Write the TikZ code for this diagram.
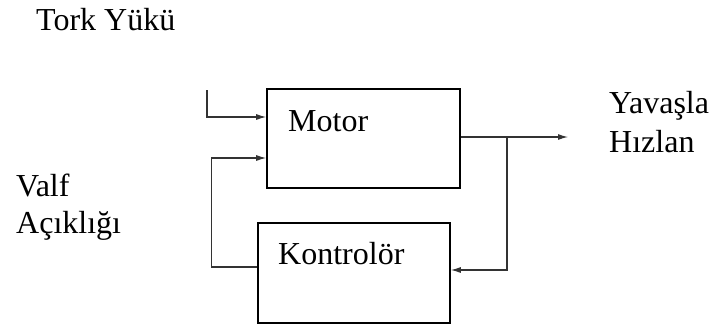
\documentclass[tikz,border=0pt]{standalone}
\usepackage{fontspec}
\setmainfont{Liberation Serif}
\usetikzlibrary{arrows.meta}
\begin{document}
\begin{tikzpicture}[x=1pt, y=-1pt, >={Latex[length=10pt,width=6pt]},
  block/.style={draw, line width=1.6pt, minimum width=193pt, minimum height=99pt, inner sep=0pt},
  txt/.style={anchor=base west, inner sep=0pt, font=\fontsize{32}{38}\selectfont},
  wire/.style={line width=1.1pt, black!80}]
\useasboundingbox (0,0) rectangle (715,327);
% blocks
\node[block] (motor) at (363.5,138.5) {};
\node[block, minimum width=192pt, minimum height=100pt] (kontrol) at (354,273) {};
\node[txt] (motortxt) at (288,131) {Motor};
\node[txt] (kontroltxt) at (278,264) {Kontrolör};
% outside labels
\node[txt] (tork) at (36,30) {Tork Yükü};
\node[txt] (valf) at (16,196) {Valf};
\node[txt] (acik) at (16,233) {Açıklığı};
\node[txt] (yavas) at (609,113) {Yavaşla};
\node[txt] (hiz) at (609,152) {Hızlan};
% signal lines
\coordinate (torkin) at (207,90);
\coordinate (out) at (568,137);
\coordinate (branch) at (507,137);
\draw[wire,->] (torkin) |- ([yshift=21.5pt]motor.west);
\draw[wire,->] ([yshift=6pt]kontrol.west) -- ++(-46,0) |- ([yshift=-19.5pt]motor.west);
\draw[wire,->] ([yshift=1.5pt]motor.east) -- (out);
\draw[wire,->] (branch) |- ([yshift=3pt]kontrol.east);
\end{tikzpicture}
\end{document}
